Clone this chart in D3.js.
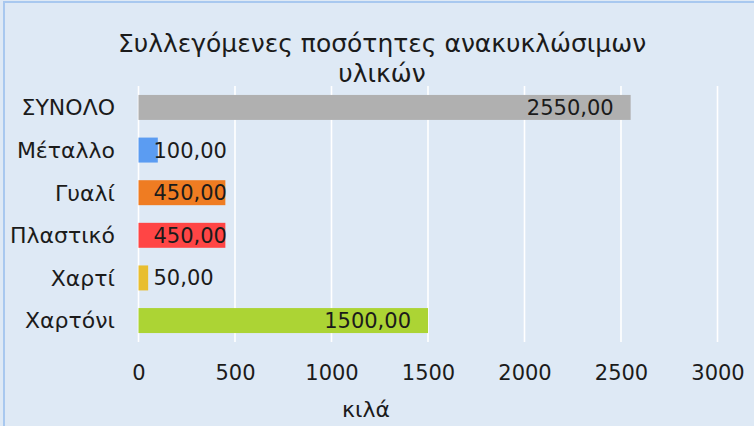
<!DOCTYPE html>
<html>
<head>
<meta charset="utf-8">
<script src="https://cdn.jsdelivr.net/npm/d3@7"></script>
<style>
  html, body { margin: 0; padding: 0; background: #dee9f5; }
  svg { display: block; }
  text { font-family: "DejaVu Sans", sans-serif; fill: #1b1b1b; }
</style>
</head>
<body>
<svg id="chart" width="754" height="426"></svg>
<script>
const titleLines = ["Συλλεγόμενες ποσότητες ανακυκλώσιμων", "υλικών"];
const categories = ["ΣΥΝΟΛΟ", "Μέταλλο", "Γυαλί", "Πλαστικό", "Χαρτί", "Χαρτόνι"];
const values = [2550, 100, 450, 450, 50, 1500];
const barColors = ["#b0b0b0", "#5b9cf2", "#ef7c22", "#ff4545", "#e8be30", "#acd434"];
const tickValues = [0, 500, 1000, 1500, 2000, 2500, 3000];
const axisTitle = "κιλά";

const svg = d3.select("#chart");
const W = 754, H = 426;

svg.append("rect").attr("width", W).attr("height", H).attr("fill", "#dee9f5");
svg.append("path")
  .attr("d", `M4,${H} L4,2 L${W},2`)
  .attr("fill", "none").attr("stroke", "#a8c8ef").attr("stroke-width", 2);

const x = d3.scaleLinear().domain([0, 3000]).range([138.5, 717.5]);
const y = d3.scaleBand().domain(categories).range([86, 342])
  .paddingInner(0.414).paddingOuter(0.21);

// gridlines
svg.append("g").selectAll("line").data(tickValues).join("line")
  .attr("x1", d => x(d)).attr("x2", d => x(d))
  .attr("y1", 86).attr("y2", 342)
  .attr("stroke", "#ffffff").attr("stroke-width", 1.6);

// axis tick labels via d3 axis
const axis = d3.axisBottom(x).tickValues(tickValues).tickSize(0).tickPadding(0)
  .tickFormat(d3.format("d"));
const gAxis = svg.append("g").attr("transform", "translate(0,365)").call(axis);
gAxis.select(".domain").remove();
gAxis.selectAll("text").attr("font-size", 21).attr("dy", "0.72em")
  .style("font-family", '"DejaVu Sans", sans-serif').attr("fill", "#1b1b1b");

// category labels
const yAxis = d3.axisLeft(y).tickSize(0).tickPadding(0);
const gY = svg.append("g").attr("transform", "translate(115,0)").call(yAxis);
gY.select(".domain").remove();
gY.selectAll("text").attr("font-size", 22).attr("dy", "0.36em")
  .style("font-family", '"DejaVu Sans", sans-serif').attr("fill", "#1b1b1b");

const data = categories.map((c, i) => ({ c, v: values[i], col: barColors[i] }));

// bars
svg.append("g").selectAll("rect").data(data).join("rect")
  .attr("x", x(0)).attr("y", d => y(d.c))
  .attr("width", d => x(d.v) - x(0)).attr("height", y.bandwidth())
  .attr("fill", d => d.col);

// value labels
const fmt = v => d3.format(".2f")(v).replace(".", ",");
svg.append("g").selectAll("text").data(data).join("text")
  .attr("font-size", 21)
  .attr("y", d => y(d.c) + y.bandwidth() / 2)
  .attr("dy", "0.36em")
  .text(d => fmt(d.v))
  .each(function(d) {
    const w = this.getComputedTextLength();
    const left = Math.max(x(0) + 15, x(d.v) - 17 - w);
    d3.select(this).attr("x", left);
  });

// title
svg.append("g").selectAll("text").data(titleLines).join("text")
  .attr("x", 382).attr("y", (d, i) => 52 + i * 30)
  .attr("text-anchor", "middle").attr("font-size", 25)
  .text(d => d);

// axis title
svg.append("text").attr("x", 366).attr("y", 417)
  .attr("text-anchor", "middle").attr("font-size", 22).text(axisTitle);
</script>
</body>
</html>
